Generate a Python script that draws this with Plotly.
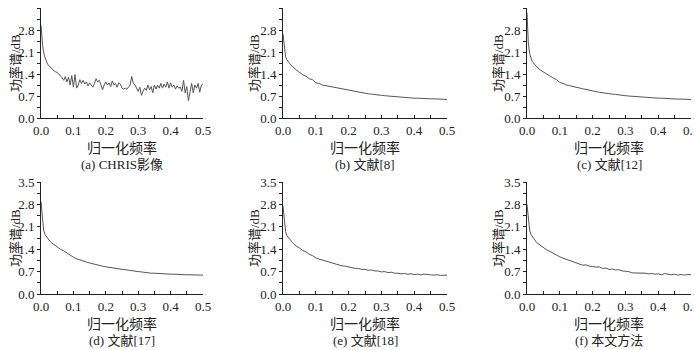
import plotly.graph_objects as go

# ---------------- data ----------------
x_a = [round(i * 0.005, 3) for i in range(101)]
y_a = [2.95, 2.3, 2.0, 1.82, 1.72, 1.66, 1.6, 1.54, 1.5, 1.47,
       1.45, 1.4, 1.35, 1.28, 1.2, 1.32, 1.15, 1.3, 1.05, 1.35,
       0.98, 1.38, 0.95, 1.05, 1.22, 1.1, 1.2, 1.08, 1.15, 1.02,
       1.12, 1.05, 0.98, 1.1, 1.25, 1.15, 1.2, 1.05, 0.9, 1.05,
       1.15, 1.05, 1.12, 1.0, 1.18, 1.05, 1.1, 0.98, 1.12, 1.08,
       0.95, 0.92, 0.95, 0.92, 1.0, 1.05, 1.32, 1.1, 1.05, 0.95,
       0.85, 0.98, 0.72, 0.85, 0.95, 0.88, 1.05, 0.9, 1.0, 0.8,
       1.05, 0.92, 1.05, 0.95, 1.1, 0.95, 1.08, 0.98, 1.15, 0.95,
       1.12, 0.98, 1.05, 0.92, 1.02, 0.95, 0.98, 0.85, 1.2, 0.8,
       1.0, 0.55, 0.9, 1.1, 0.8, 1.05, 0.95, 1.1, 0.82, 1.05, 1.08]

x_s = [0.0, 0.004, 0.008, 0.012, 0.016] + [round(0.02 + i * 0.01, 2) for i in range(49)]

y_b = [2.68, 2.2, 1.95, 1.85, 1.78, 1.74, 1.62, 1.52, 1.45, 1.38,
       1.33, 1.25, 1.22, 1.12, 1.1, 1.05, 1.03, 1.0, 0.98, 0.96,
       0.93, 0.91, 0.89, 0.87, 0.85, 0.83, 0.81, 0.8, 0.78, 0.77,
       0.76, 0.74, 0.73, 0.72, 0.71, 0.7, 0.69, 0.68, 0.66, 0.65,
       0.65, 0.64, 0.64, 0.63, 0.63, 0.62, 0.62, 0.62, 0.61, 0.61,
       0.61, 0.6, 0.6, 0.59]
y_c = [3.35, 2.4, 2.05, 1.88, 1.8, 1.75, 1.62, 1.53, 1.46, 1.4,
       1.34, 1.27, 1.22, 1.13, 1.1, 1.05, 1.03, 1.0, 0.98, 0.95,
       0.93, 0.91, 0.88, 0.86, 0.84, 0.82, 0.8, 0.79, 0.77, 0.76,
       0.75, 0.73, 0.72, 0.71, 0.7, 0.69, 0.68, 0.67, 0.66, 0.65,
       0.65, 0.64, 0.64, 0.63, 0.63, 0.62, 0.62, 0.61, 0.61, 0.6,
       0.6, 0.6, 0.59, 0.59]
y_d = [2.9, 2.3, 2.0, 1.87, 1.8, 1.75, 1.62, 1.54, 1.47, 1.4,
       1.35, 1.28, 1.22, 1.15, 1.1, 1.06, 1.03, 1.0, 0.97, 0.94,
       0.91, 0.89, 0.87, 0.85, 0.83, 0.81, 0.8, 0.78, 0.77, 0.76,
       0.74, 0.72, 0.71, 0.7, 0.69, 0.67, 0.66, 0.65, 0.65, 0.64,
       0.64, 0.63, 0.63, 0.62, 0.62, 0.61, 0.62, 0.61, 0.6, 0.6,
       0.6, 0.59, 0.59, 0.59]
y_e = [2.75, 2.25, 1.95, 1.82, 1.76, 1.72, 1.6, 1.5, 1.44, 1.36,
       1.32, 1.24, 1.2, 1.13, 1.09, 1.06, 1.02, 1.0, 0.96, 0.93,
       0.92, 0.88, 0.87, 0.84, 0.83, 0.8, 0.8, 0.77, 0.77, 0.74,
       0.75, 0.72, 0.72, 0.69, 0.7, 0.67, 0.68, 0.65, 0.65, 0.63,
       0.64, 0.62, 0.63, 0.61, 0.62, 0.6, 0.62, 0.6, 0.6, 0.59,
       0.6, 0.58, 0.59, 0.59]
y_f = [2.8, 2.3, 2.0, 1.86, 1.79, 1.74, 1.6, 1.52, 1.45, 1.38,
       1.33, 1.27, 1.22, 1.16, 1.12, 1.08, 1.06, 1.02, 0.98, 0.94,
       0.9, 0.91, 0.87, 0.86, 0.84, 0.85, 0.8, 0.81, 0.77, 0.78,
       0.75, 0.76, 0.72, 0.71, 0.7, 0.66, 0.66, 0.65, 0.64, 0.65,
       0.63, 0.64, 0.62, 0.63, 0.6, 0.64, 0.62, 0.6, 0.62, 0.59,
       0.61, 0.59, 0.61, 0.6]

series = [(x_a, y_a), (x_s, y_b), (x_s, y_c), (x_s, y_d), (x_s, y_e), (x_s, y_f)]
captions = ["(a) CHRIS影像", "(b) 文献[8]", "(c) 文献[12]",
            "(d) 文献[17]", "(e) 文献[18]", "(f) 本文方法"]
x_ticks = [0.0, 0.1, 0.2, 0.3, 0.4, 0.5]
y_ticks = [0.0, 0.7, 1.4, 2.1, 2.8, 3.5]
x_title = "归一化频率"
y_title = "功率谱/dB"

# ---------------- layout ----------------
OFF = 8                     # page body margin in the browser
W, H = 700 - OFF, 350 - OFF
FONT = "'Liberation Serif', 'Noto Sans CJK SC', serif"
col_px = [(41, 203), (283, 447), (527, 691)]   # screen pixels
row_px = [(8, 118), (182, 294)]


def fx(px):
    return min(1.0, max(0.0, (px - OFF) / W))


def fy(py):
    return min(1.0, max(0.0, 1 - (py - OFF) / H))


fig = go.Figure()
annotations = []
layout = {}
for i, (xs, ys) in enumerate(series):
    r, c = divmod(i, 3)
    k = "" if i == 0 else str(i + 1)
    x0, x1 = col_px[c]
    t, b = row_px[r]
    fig.add_trace(go.Scatter(x=xs, y=ys, mode="lines",
                             line=dict(color="#555555", width=1),
                             xaxis="x" + k, yaxis="y" + k, showlegend=False,
                             hoverinfo="skip", cliponaxis=False))
    layout["xaxis" + k] = dict(
        domain=[fx(x0), fx(x1)], anchor="y" + k, range=[0, 0.5], automargin=False,
        tickvals=x_ticks, ticktext=[f"{v:.1f}" for v in x_ticks],
        ticks="inside", ticklen=3, tickwidth=1, tickcolor="#222",
        minor=dict(dtick=0.05, tick0=0, ticks="inside", ticklen=3, tickcolor="#222"),
        showline=True, linecolor="#222", linewidth=1, showgrid=False, zeroline=False,
        tickfont=dict(family=FONT, size=13, color="#222"))
    layout["yaxis" + k] = dict(
        domain=[fy(b), fy(t)], anchor="x" + k, range=[0, 3.5], automargin=False,
        tickvals=y_ticks, ticktext=[f"{v:.1f}" for v in y_ticks],
        ticks="outside", ticklen=3, tickwidth=1, tickcolor="#222",
        minor=dict(dtick=0.35, tick0=0, ticks="outside", ticklen=3, tickcolor="#222"),
        showline=True, linecolor="#222", linewidth=1, showgrid=False, zeroline=False,
        tickfont=dict(family=FONT, size=13, color="#222"))
    cx = fx((x0 + x1) / 2)
    annotations.append(dict(text=x_title, x=cx, y=fy(b + 30), xref="paper", yref="paper",
                            showarrow=False, xanchor="center", yanchor="middle",
                            font=dict(family=FONT, size=14, color="#222")))
    annotations.append(dict(text=captions[i], x=cx, y=fy(b + 46), xref="paper", yref="paper",
                            showarrow=False, xanchor="center", yanchor="middle",
                            font=dict(family=FONT, size=13, color="#222")))
    annotations.append(dict(text=y_title, x=fx(max(x0 - 29, 15)), y=fy((t + b) / 2),
                            xref="paper", yref="paper", textangle=-90,
                            showarrow=False, xanchor="center", yanchor="middle",
                            font=dict(family=FONT, size=13, color="#222")))

fig.update_layout(width=W, height=H, margin=dict(l=0, r=0, t=0, b=0, autoexpand=False),
                  paper_bgcolor="white", plot_bgcolor="white",
                  annotations=annotations, **layout)
fig.write_html("out.html")
